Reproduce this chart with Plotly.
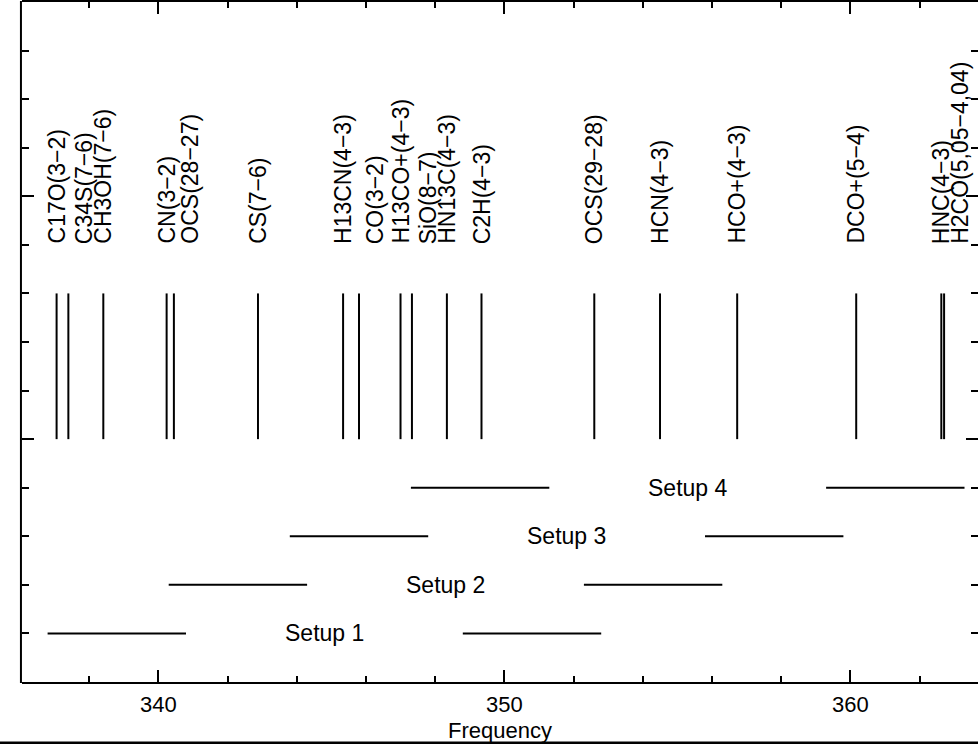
import plotly.graph_objects as go

# Spectral lines (GHz) and their names
line_names = [
    "C17O(3−2)", "C34S(7−6)", "CH3OH(7−6)", "CN(3−2)", "OCS(28−27)", "CS(7−6)",
    "H13CN(4−3)", "CO(3−2)", "H13CO+(4−3)", "SiO(8−7)", "HN13C(4−3)", "C2H(4−3)",
    "OCS(29−28)", "HCN(4−3)", "HCO+(4−3)", "DCO+(5−4)", "HNC(4−3)", "H2CO(5,05−4,04)",
]
line_freqs = [
    337.06, 337.40, 338.41, 340.24, 340.45, 342.88,
    345.34, 345.80, 347.00, 347.33, 348.34, 349.34,
    352.60, 354.50, 356.73, 360.17, 362.63, 362.71,
]

# Receiver setups: lower and upper sideband edges (GHz)
setup_names = ["Setup 1", "Setup 2", "Setup 3", "Setup 4"]
setup_level = [1, 2, 3, 4]
lsb_start = [336.8, 340.3, 343.8, 347.3]
lsb_end = [340.8, 344.3, 347.8, 351.3]
usb_start = [348.8, 352.3, 355.8, 359.3]
usb_end = [352.8, 356.3, 359.8, 363.3]

FONT = "Liberation Sans"
LINE_Y0, LINE_Y1 = 5, 8
LABEL_Y = 9.0
CROWD_GAP = 0.6     # GHz: closer lines get their label nudged
LABEL_SHIFT = 0.46  # GHz

fig = go.Figure()

# vertical line markers
xs, ys = [], []
for f in line_freqs:
    xs += [f, f, None]
    ys += [LINE_Y0, LINE_Y1, None]
fig.add_trace(go.Scatter(x=xs, y=ys, mode="lines",
                         line=dict(color="black", width=2), hoverinfo="skip",
                         showlegend=False))

# setup bands
sx, sy = [], []
for lvl, a, b, c, d in zip(setup_level, lsb_start, lsb_end, usb_start, usb_end):
    sx += [a, b, None, c, d, None]
    sy += [lvl, lvl, None, lvl, lvl, None]
fig.add_trace(go.Scatter(x=sx, y=sy, mode="lines",
                         line=dict(color="black", width=2), hoverinfo="skip",
                         showlegend=False))

annotations = []
prev = None
for name, f in zip(line_names, line_freqs):
    lx = f
    if prev is not None and f - prev < CROWD_GAP:
        lx = f + LABEL_SHIFT
    prev = f
    annotations.append(dict(x=lx, y=LABEL_Y, xref="x", yref="y", text=name,
                            textangle=-90, showarrow=False, xanchor="center",
                            yanchor="bottom", borderpad=0,
                            font=dict(family=FONT, size=23, color="black")))

for name, lvl, b, c in zip(setup_names, setup_level, lsb_end, usb_start):
    annotations.append(dict(x=(b + c) / 2, y=lvl, xref="x", yref="y", text=name,
                            showarrow=False, xanchor="center", yanchor="middle",
                            font=dict(family=FONT, size=23, color="black")))

# axis title placed just below the tick labels
annotations.append(dict(x=0.5, y=-0.071, xref="paper", yref="paper",
                        text="Frequency", showarrow=False, xanchor="center",
                        yanchor="middle", borderpad=0,
                        font=dict(family=FONT, size=22, color="black")))

fig.update_layout(
    width=978, height=744,
    margin=dict(l=22, r=0, t=2, b=62),
    paper_bgcolor="white", plot_bgcolor="white",
    font=dict(family=FONT, size=23, color="black"),
    annotations=annotations,
    showlegend=False,
    shapes=[
        dict(type="line", xref="paper", yref="paper",
             x0=-0.05, x1=1.05, y0=-0.0897, y1=-0.0897,
             line=dict(color="black", width=3)),
        dict(type="line", xref="paper", yref="paper",
             x0=-0.0011, x1=-0.0011, y0=-0.0015, y1=1.0015,
             line=dict(color="black", width=2)),
    ],
)

fig.update_xaxes(
    range=[336.06, 363.69], showgrid=False, zeroline=False,
    showline=True, linecolor="black", linewidth=2, mirror="ticks",
    ticks="inside", ticklen=12, tickwidth=2, tickcolor="black",
    tick0=340, dtick=10, ticklabelstandoff=2,
    minor=dict(ticks="inside", ticklen=6, tickwidth=2, tickcolor="black", dtick=2, tick0=340),
    tickfont=dict(family=FONT, size=22, color="black"),
)
fig.update_yaxes(
    range=[0, 14], showgrid=False, zeroline=False,
    showline=False, mirror="ticks",
    ticks="inside", ticklen=12, tickwidth=2, tickcolor="black",
    tick0=0, dtick=5, showticklabels=False,
    minor=dict(ticks="inside", ticklen=7, tickwidth=2, tickcolor="black", dtick=1),
)

fig.write_html("out.html")
